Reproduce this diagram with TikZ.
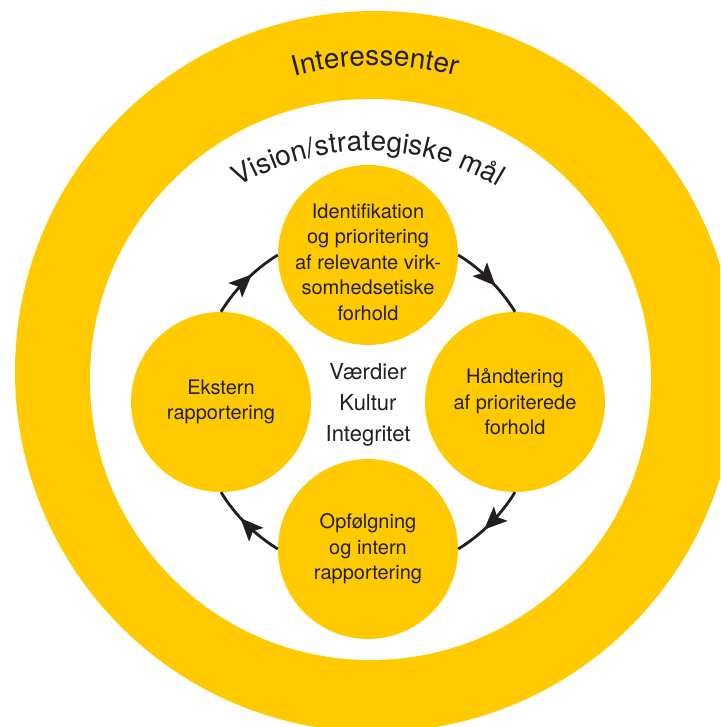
\documentclass[tikz,border=0pt]{standalone}
\usepackage{fontspec}
\setmainfont{TeX Gyre Heros}
\usetikzlibrary{positioning,arrows.meta,decorations.markings,decorations.text}
\definecolor{gold}{HTML}{FFCB00}
\definecolor{ink}{HTML}{231F20}
\newcommand{\ringfont}{\fontsize{28}{30}\selectfont}
% dart-shaped head, tip at the mark
\newcommand{\darthead}{\fill [ink] (4pt,0pt) -- (-19pt,10pt) -- (-14pt,0pt) -- (-19pt,-10pt) -- cycle;}

\begin{document}
\begin{tikzpicture}[x=1pt, y=1pt, on grid,
                    stage/.style={circle, fill=gold, text=ink, minimum size=180pt, inner sep=0pt,
                                  align=center, font=\fontsize{20}{25.5}\selectfont},
                    lbl/.style={text=ink, align=center, font=\fontsize{20}{25.5}\selectfont},
                    core/.style={text=ink, align=center, font=\fontsize{22}{31}\selectfont},
                    loopline/.style={draw=ink, line width=2.8pt, postaction={decorate},
                                     decoration={markings, mark=at position 0.55 with {\darthead}}},
                    arctext/.style={decorate, decoration={text along path, text align=center,
                                    text={|\ringfont\color{ink}|#1}}}]
    \useasboundingbox (0,0) rectangle (720,727);
    \fill [white] (0,0) rectangle (720,727);
    \clip (0,0) rectangle (720,727);

    % Rings
    \coordinate (outer) at (375.5,355.5);
    \coordinate (inner) at (370.5,347.5);
    \fill [gold]  (outer) circle [radius=360.5];
    \fill [white] (inner) circle [radius=280.5];

    % Nodes
    \node [core] at (368,322)            (values) {Værdier\\Kultur\\Integritet};
    \node [stage, above=150pt of values] (ident)
        [label={[lbl, yshift=-7pt]center:{Identifikation\\og prioritering\\af relevante virk-\\somhedsetiske\\forhold}}] {};
    \node [stage, right=147pt of values, yshift=3pt] (handle) {Håndtering\\af prioriterede\\forhold};
    \node [stage, below=144pt of values] (follow) {Opfølgning\\og intern\\rapportering};
    \node [stage, left=147pt of values, yshift=3pt]  (report) {Ekstern\\rapportering};

    % Ring labels
    \path [arctext=Interessenter, shift={(outer)}]
        (160:306) arc [start angle=160, end angle=20, radius=306];
    \path [arctext={Vision/strategiske mål}, shift={(368,325)}]
        (150:251) arc [start angle=150, end angle=30, radius=251];

    % Paths
    \path [loopline] (report.north) to [out=58.5,  in=211.5, looseness=0.86] (ident.west);
    \path [loopline] (ident.east)   to [out=-31.5, in=121.5, looseness=0.86] (handle.north);
    \path [loopline] (handle.south) to [out=238.5, in=31.5,  looseness=0.86] (follow.east);
    \path [loopline] (follow.west)  to [out=148.5, in=301.5, looseness=0.86] (report.south);
\end{tikzpicture}
\end{document}
